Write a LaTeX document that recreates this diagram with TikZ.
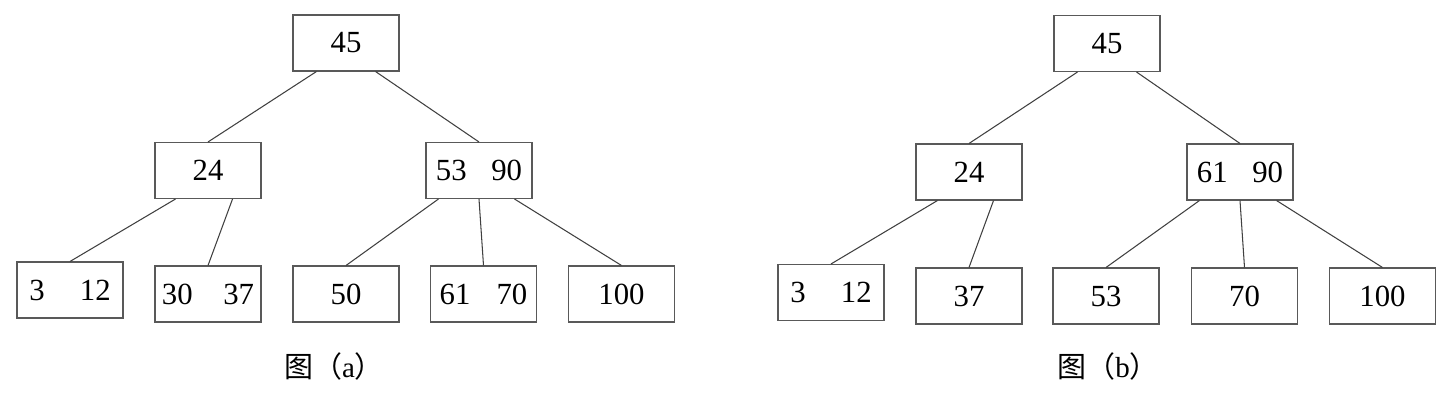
\documentclass[tikz,border=0pt]{standalone}
\usepackage{fontspec}
\setmainfont{Liberation Serif}
\newfontfamily\cjk{Noto Sans CJK SC}
\newcommand\keygap[1]{\hspace{#1em}}
\begin{document}
\begin{tikzpicture}[x=0.02cm,y=-0.02cm,
    keybox/.style={draw=black!65,line width=0.6pt,minimum width=2.12cm,
        minimum height=1.12cm,inner sep=0pt,font=\fontsize{17.5}{20}\selectfont},
    link/.style={draw=black!75,line width=0.6pt},
    caption/.style={inner sep=0pt,font=\fontsize{16.5}{20}\selectfont}]
\useasboundingbox (0,0) rectangle (1450,409);
% tree (a)
\node[keybox] (a45) at (346,43) {45};
\node[keybox] (a24) at (208,170.5) {24};
\node[keybox] (a5390) at (479,170.5) {53\keygap{0.8}90};
\node[keybox] (a312) at (70,290) {3\keygap{1.15}12};
\node[keybox] (a3037) at (208,294) {30\keygap{1.0}37};
\node[keybox] (a50) at (346,294) {50};
\node[keybox] (a6170) at (483.5,294) {61\keygap{0.85}70};
\node[keybox] (a100) at (621.5,294) {100};
\draw[link] ([xshift=0.48cm]a45.south west) -- (a24.north);
\draw[link] ([xshift=-0.48cm]a45.south east) -- (a5390.north);
\draw[link] ([xshift=0.42cm]a24.south west) -- (a312.north);
\draw[link] ([xshift=-0.58cm]a24.south east) -- (a3037.north);
\draw[link] ([xshift=0.26cm]a5390.south west) -- (a50.north);
\draw[link] (a5390.south) -- (a6170.north);
\draw[link] ([xshift=-0.36cm]a5390.south east) -- (a100.north);
\node[caption] (capa) at (334,366) {{\cjk 图（}a{\cjk ）}};
% tree (b)
\node[keybox] (b45) at (1107,43.5) {45};
\node[keybox] (b24) at (969,172) {24};
\node[keybox] (b6190) at (1240,172) {61\keygap{0.8}90};
\node[keybox] (b312) at (831,292.5) {3\keygap{1.15}12};
\node[keybox] (b37) at (969,296) {37};
\node[keybox] (b53) at (1106,296) {53};
\node[keybox] (b70) at (1244.5,296) {70};
\node[keybox] (b100) at (1382.5,296) {100};
\draw[link] ([xshift=0.48cm]b45.south west) -- (b24.north);
\draw[link] ([xshift=-0.48cm]b45.south east) -- (b6190.north);
\draw[link] ([xshift=0.44cm]b24.south west) -- (b312.north);
\draw[link] ([xshift=-0.58cm]b24.south east) -- (b37.north);
\draw[link] ([xshift=0.26cm]b6190.south west) -- (b53.north);
\draw[link] (b6190.south) -- (b70.north);
\draw[link] ([xshift=-0.34cm]b6190.south east) -- (b100.north);
\node[caption] (capb) at (1108,366) {{\cjk 图（}b{\cjk ）}};
\end{tikzpicture}
\end{document}
